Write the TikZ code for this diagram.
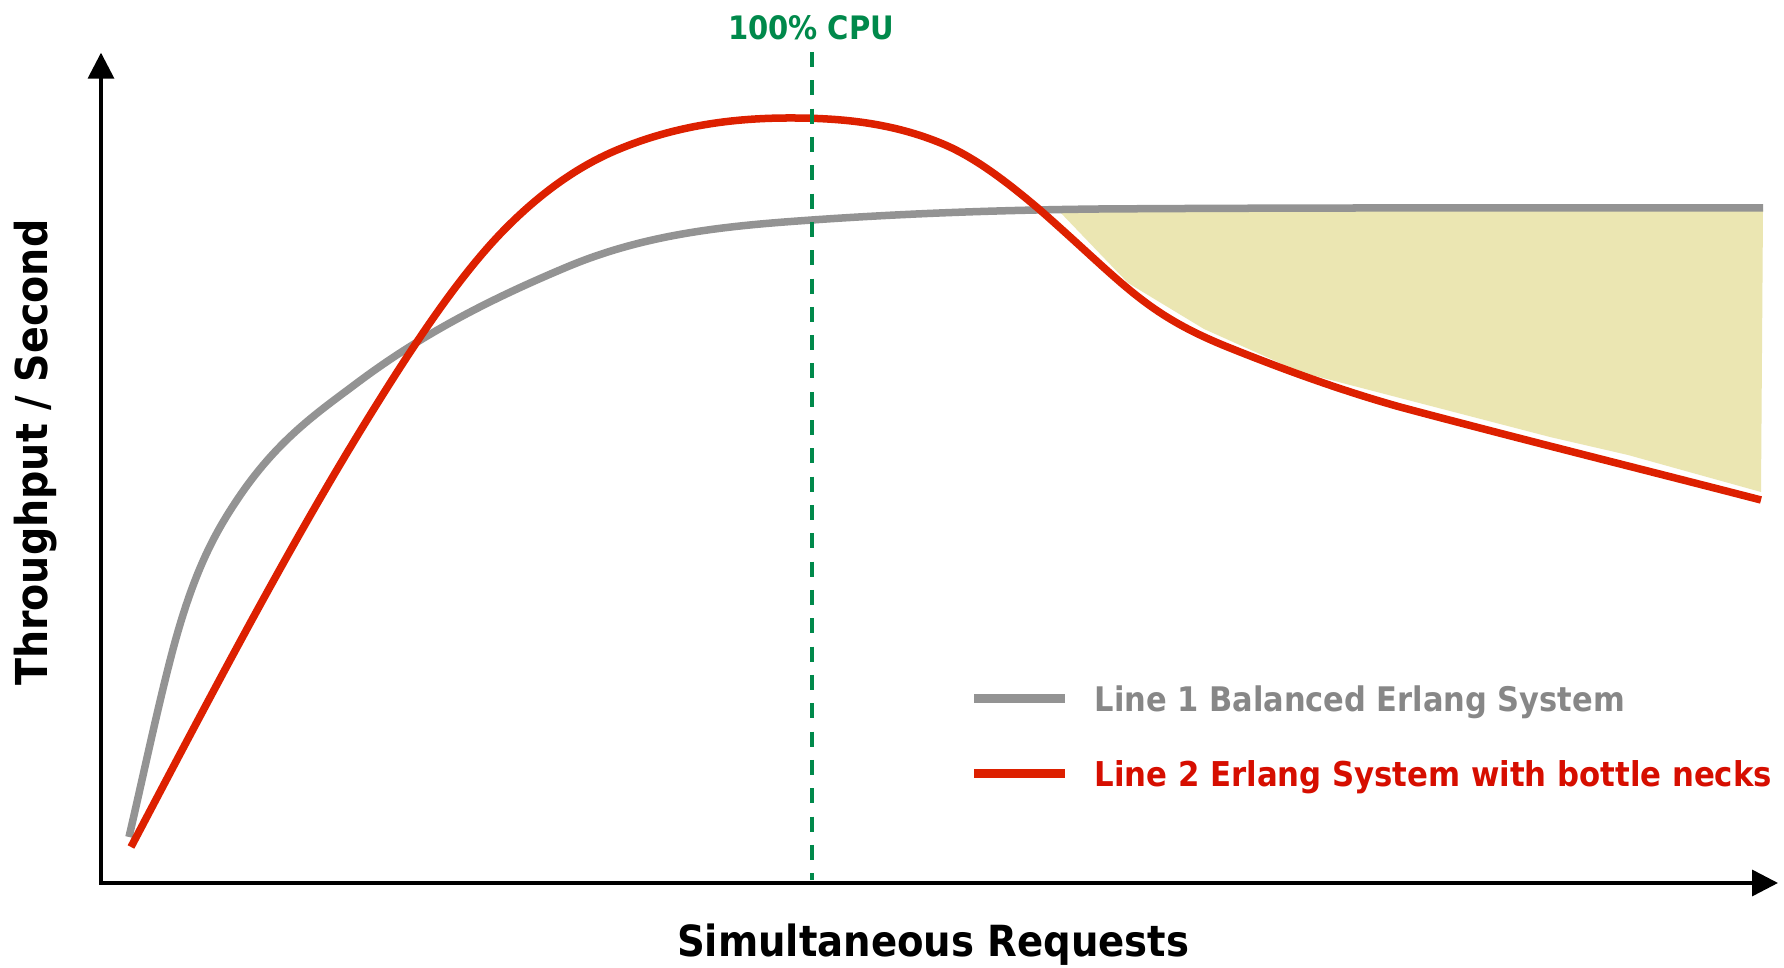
\documentclass[tikz,border=0pt]{standalone}
\usepackage{fontspec}
\usetikzlibrary{arrows.meta}
\newfontfamily\lblfont{DejaVu Sans Condensed}[BoldFont={DejaVu Sans Condensed Bold}]
\definecolor{balgray}{RGB}{147,147,147}
\definecolor{neckred}{RGB}{221,32,0}
\definecolor{cpugreen}{RGB}{0,137,75}
\definecolor{lossfill}{RGB}{235,230,178}
\definecolor{graytext}{RGB}{135,135,135}
\definecolor{redtext}{RGB}{214,14,0}
% text scaled to a fixed width
\newcommand{\fittext}[2]{\resizebox{#1}{!}{\lblfont\bfseries #2}}
\begin{document}
\begin{tikzpicture}[x=0.01cm,y=-0.01cm,
  lbl/.style={inner sep=0pt,outer sep=0pt,anchor=base west},
  axis/.style={line width=0.035cm,line join=miter,{Triangle[length=0.26cm,width=0.26cm]}-{Triangle[length=0.26cm,width=0.26cm]}},
  curve/.style={line width=0.075cm,line join=round},
  legline/.style={line width=0.085cm}]
\useasboundingbox (0,0) rectangle (1784,968);
\fill[white] (0,0) rectangle (1784,968);

% shaded gap between the two systems
\fill[lossfill] (1058,210) -- (1763,210) -- (1761,492) -- (1628,455) -- (1550,437)
  -- (1300,372) -- (1204,329) -- (1128,283) -- cycle;

% axes
\coordinate (ytip) at (101,52.7);
\coordinate (origin) at (101,883);
\coordinate (xtip) at (1778,883);
\draw[axis] (ytip) -- (origin) -- (xtip);

% line 1: balanced system
\draw[curve,balgray] (129,837)
  .. controls (143.3,775.5) and (157.7,707.3) .. (172,653)
  .. controls (193.7,570.7) and (215.3,532.5) .. (237,500)
  .. controls (277,440) and (317,413) .. (357,383)
  .. controls (427,330.5) and (497,296.4) .. (567,267)
  .. controls (648.7,232.7) and (730.3,225.7) .. (812,220)
  .. controls (908,213.3) and (1004,210) .. (1100,209)
  .. controls (1321,207.5) and (1542,208) .. (1763,208);

% line 2: system with bottle necks
\draw[curve,neckred] (131,847)
  .. controls (209.7,697.5) and (288.3,547.5) .. (367,420)
  .. controls (413.7,344.4) and (460.3,273.7) .. (507,227)
  .. controls (543.7,190.3) and (580.3,165.4) .. (617,150)
  .. controls (674.7,125.8) and (732.3,118) .. (790,118)
  .. controls (841,118) and (892,122.6) .. (943,144)
  .. controls (975.3,157.6) and (1007.7,182.5) .. (1040,210)
  .. controls (1125.5,285.2) and (1144.5,313.8) .. (1230,348)
  .. controls (1286.7,370.7) and (1343.3,391.1) .. (1400,407)
  .. controls (1520,439) and (1641,469) .. (1761,500);

% full CPU marker
\coordinate (cputop) at (811.7,52);
\coordinate (cpubot) at (811.7,880);
\draw[cpugreen,line width=0.04cm,dash pattern=on 0.15cm off 0.133cm] (cputop) -- (cpubot);
\node[lbl,text=cpugreen] (cpu) at (728,39.3) {\fittext{1.66cm}{100\% CPU}};

% axis titles
\node[lbl] (xlabel) at (677,957) {\fittext{5.12cm}{Simultaneous Requests}};
\node[lbl,rotate=90] (ylabel) at (47.8,686) {\fittext{4.66cm}{Throughput / Second}};

% legend
\coordinate (l1a) at (974,698.6);
\coordinate (l1b) at (1065,698.6);
\coordinate (l2a) at (974,773.7);
\coordinate (l2b) at (1065,773.7);
\draw[legline,balgray] (l1a) -- (l1b);
\draw[legline,neckred] (l2a) -- (l2b);
\node[lbl,text=graytext] (leg1) at (1094.6,711.5) {\fittext{5.30cm}{Line 1 Balanced Erlang System}};
\node[lbl,text=redtext] (leg2) at (1094.6,786.5) {\fittext{6.77cm}{Line 2 Erlang System with bottle necks}};
\end{tikzpicture}
\end{document}
